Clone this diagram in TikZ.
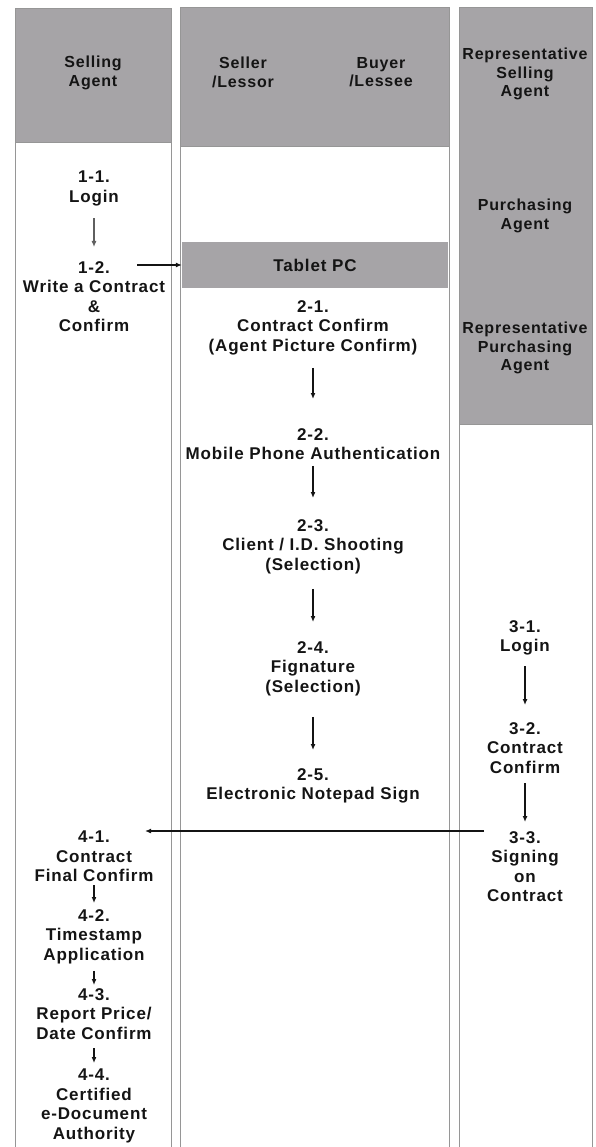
\documentclass[tikz,border=0pt]{standalone}
\usepackage{fontspec}
\setmainfont{Liberation Sans}[LetterSpace=5]
\usetikzlibrary{arrows.meta}
\definecolor{hdrgray}{RGB}{166,164,167}
\definecolor{rulegray}{RGB}{150,150,150}
\definecolor{ink}{RGB}{20,20,20}
\definecolor{softink}{RGB}{95,95,95}
\begin{document}
\begin{tikzpicture}[x=1pt,y=-1pt,
  hdrtext/.style={font=\bfseries\fontsize{16}{18.5}\selectfont, align=center,
                  inner sep=0pt, text=ink, anchor=north},
  steptext/.style={font=\bfseries\fontsize{17}{19.5}\selectfont, align=center,
                   inner sep=0pt, text=ink, anchor=north},
  lane/.style={draw=rulegray, line width=0.8pt},
  hdrbox/.style={fill=hdrgray, draw=rulegray, line width=0.6pt},
  flow/.style={-{Latex[length=6pt,width=5pt]}, line width=1.4pt, draw=ink},
  softflow/.style={-{Latex[length=6pt,width=5pt]}, line width=1.1pt, draw=softink},
]
\useasboundingbox (0,0) rectangle (595,1147);

% swim lanes with their grey header blocks
\filldraw[hdrbox] (15,8) rectangle (171,142);
\draw[lane] (15,1148) |- (171,8) -- (171,1148);
\filldraw[hdrbox] (180,7) rectangle (449,146);
\draw[lane] (180,1148) |- (449,7) -- (449,1148);
\filldraw[hdrbox] (459,7) rectangle (592,424);
\draw[lane] (459,1148) |- (592,7) -- (592,1148);

% lane titles
\node[hdrtext] (hSA)  at (93,56.2)  {Selling\\Agent};
\node[hdrtext] (hSL)  at (243,57.2) {Seller\\/Lessor};
\node[hdrtext] (hBL)  at (381,57.2) {Buyer\\/Lessee};
\node[hdrtext] (hRSA) at (525,48.2) {Representative\\Selling\\Agent};
\node[hdrtext] (hPA)  at (525,199.2) {Purchasing\\Agent};
\node[hdrtext] (hRPA) at (525,322.2) {Representative\\Purchasing\\Agent};

% tablet bar
\node[fill=hdrgray, minimum width=266pt, minimum height=46pt, inner sep=0pt,
      font=\bfseries\fontsize{17}{19.5}\selectfont, text=ink] (tablet) at (315,265) {Tablet PC};

% selling agent steps
\node[steptext] (s11) at (94,171) {1-1.\\Login};
\node[steptext] (s12) at (94,261) {1-2.\\Write a Contract\\\&\\Confirm};

% tablet steps
\node[steptext] (s21) at (313,300) {2-1.\\Contract Confirm\\(Agent Picture Confirm)};
\node[steptext] (s22) at (313,428) {2-2.\\Mobile Phone Authentication};
\node[steptext] (s23) at (313,519) {2-3.\\Client / I.D. Shooting\\(Selection)};
\node[steptext] (s24) at (313,641) {2-4.\\Fignature\\(Selection)};
\node[steptext] (s25) at (313,768) {2-5.\\Electronic Notepad Sign};

% purchasing agent steps
\node[steptext] (s31) at (525,620) {3-1.\\Login};
\node[steptext] (s32) at (525,722) {3-2.\\Contract\\Confirm};
\node[steptext] (s33) at (525,831) {3-3.\\Signing\\on\\Contract};

% closing steps
\node[steptext] (s41) at (94,831) {4-1.\\Contract\\Final Confirm};
\node[steptext] (s42) at (94,909) {4-2.\\Timestamp\\Application};
\node[steptext] (s43) at (94,988) {4-3.\\Report Price/\\Date Confirm};
\node[steptext] (s44) at (94,1069) {4-4.\\Certified\\e-Document\\Authority};

% free ends of the horizontal hand-overs
\coordinate (c12) at (137,265);
\coordinate (c33) at (484,831);
\coordinate (c41) at (145,831);

% connectors
\draw[softflow, shorten <=12pt, shorten >=14pt] (s11) -- (s12);
\draw[flow, line width=1.1pt] (c12) -- (tablet.west);
\draw[flow, shorten <=13pt, shorten >=29pt] (s21) -- (s22);
\draw[flow, shorten <=6pt,  shorten >=21pt] (s22) -- (s23);
\draw[flow, shorten <=15pt, shorten >=19pt] (s23) -- (s24);
\draw[flow, shorten <=21pt, shorten >=18pt] (s24) -- (s25);
\draw[flow, shorten <=11pt, shorten >=17pt] (s31) -- (s32);
\draw[flow, shorten <=10pt, shorten >=9pt]  (s32) -- (s33);
\draw[flow] (c33) -- (c41);
\draw[flow, shorten <=3pt, shorten >=6pt] (s41) -- (s42);
\draw[flow, shorten <=7pt, shorten >=3pt] (s42) -- (s43);
\draw[flow, shorten <=9pt, shorten >=6pt] (s43) -- (s44);
\end{tikzpicture}
\end{document}
